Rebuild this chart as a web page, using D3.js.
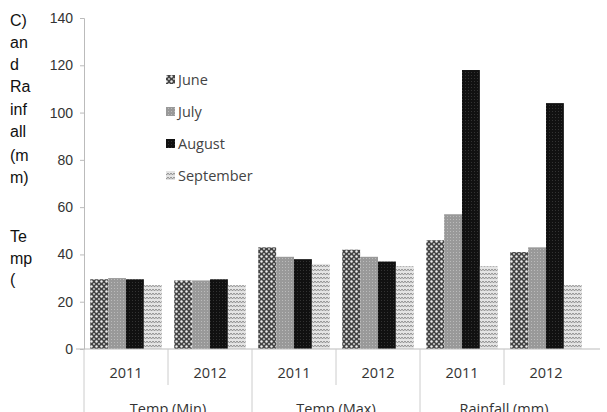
<!DOCTYPE html>
<html><head><meta charset="utf-8">
<script src="https://cdn.jsdelivr.net/npm/d3@7"></script>
<style>body{margin:0;background:#fff}svg{display:block}</style>
</head><body><svg id="c" width="607" height="412"></svg>
<script>
const categories=["Temp (Min)","Temp (Max)","Rainfall (mm)"];
const years=["2011","2012"];
const months=["June","July","August","September"];
const june=[29.5,29,43,42,46,41];
const july=[30,29,39,39,57,43];
const august=[29.5,29.5,38,37,118,104];
const september=[27,27,36,35,35,27];
const yTicks=[0,20,40,60,80,100,120,140];
const series=[june,july,august,september];
const svg=d3.select("#c");
const defs=svg.append("defs");
let p=defs.append("pattern").attr("id","p0").attr("width",5).attr("height",5).attr("patternUnits","userSpaceOnUse");
p.append("rect").attr("width",5).attr("height",5).attr("fill","#444");
p.append("circle").attr("cx",1.5).attr("cy",1.5).attr("r",1.2).attr("fill","#eee");
p.append("circle").attr("cx",4).attr("cy",4).attr("r",0.9).attr("fill","#ddd");
p=defs.append("pattern").attr("id","p1").attr("width",3).attr("height",3).attr("patternUnits","userSpaceOnUse");
p.append("rect").attr("width",3).attr("height",3).attr("fill","#999");
p.append("rect").attr("width",1).attr("height",1).attr("fill","#bbb");
p=defs.append("pattern").attr("id","p2").attr("width",3).attr("height",3).attr("patternUnits","userSpaceOnUse");
p.append("rect").attr("width",3).attr("height",3).attr("fill","#111");
p.append("rect").attr("width",1).attr("height",1).attr("fill","#333");
p=defs.append("pattern").attr("id","p3").attr("width",6).attr("height",4).attr("patternUnits","userSpaceOnUse");
p.append("rect").attr("width",6).attr("height",4).attr("fill","#e4e4e4");
p.append("path").attr("d","M0,1 L1.5,3 L3,1 L4.5,3 L6,1").attr("stroke","#888").attr("fill","none").attr("stroke-width",0.9);

svg.append("text").attr("x",420).attr("y",-6).attr("text-anchor","middle")
 .attr("font-family","Liberation Serif").attr("font-weight","bold").attr("font-size",22).attr("fill","#222")
 .text("Temperature profile and rainfall (mm)");

const x0=84,x1=588,yb=349,yt=18;
const y=d3.scaleLinear().domain([0,140]).range([yb,yt]);
const slots=d3.range(6);
const xs=d3.scaleBand().domain(slots).range([x0,x1]);
const xin=d3.scaleBand().domain(d3.range(4)).range([0,xs.bandwidth()]).paddingOuter(0.35);
const gy=svg.append("g").attr("transform",`translate(${x0},0)`).call(d3.axisLeft(y).tickValues(yTicks).tickSize(4).tickPadding(7));
gy.select(".domain").attr("stroke","#bbb");
gy.selectAll(".tick line").attr("stroke","#bbb");
gy.selectAll("text").attr("font-family","Liberation Sans").attr("font-size",14).attr("fill","#333");
series.forEach((s,i)=>{
 svg.append("g").selectAll("rect").data(s).join("rect")
  .attr("x",(d,j)=>xs(j)+xin(i)).attr("width",xin.bandwidth())
  .attr("y",d=>y(d)).attr("height",d=>yb-y(d)).attr("fill",`url(#p${i})`);
});
svg.append("line").attr("x1",x0-8).attr("x2",600).attr("y1",yb).attr("y2",yb).attr("stroke","#bbb");
slots.forEach(j=>{
 const xx=xs(j);
 svg.append("line").attr("x1",xx).attr("x2",xx).attr("y1",yb).attr("y2",j%2==0?412:385).attr("stroke","#ccc");
 svg.append("text").attr("x",xx+xs.bandwidth()/2).attr("y",378).attr("text-anchor","middle")
  .attr("font-family","Open Sans").attr("font-size",14.5).attr("fill","#333").text(years[j%2]);
});
categories.forEach((c,k)=>{
 svg.append("text").attr("x",xs(k*2)+xs.bandwidth()).attr("y",414).attr("text-anchor","middle")
  .attr("font-family","Open Sans").attr("font-size",14.5).attr("fill","#333").text(c);
});
months.forEach((m,i)=>{
 const ly=80+i*32;
 svg.append("rect").attr("x",166).attr("y",ly-5).attr("width",9).attr("height",9).attr("fill",`url(#p${i})`);
 svg.append("text").attr("x",178).attr("y",ly+5).attr("font-family","Open Sans").attr("font-size",14.5).attr("fill","#444").text(m);
});
const lbl=[["C)",20],["an",42],["d",64],["Ra",86],["inf",109],["all",131],["(m",155],["m)",177],["Te",236],["mp",258],["(",279]];
lbl.forEach(([t,yy])=>svg.append("text").attr("x",10).attr("y",yy+6).attr("font-family","Liberation Sans").attr("font-size",16).attr("fill","#111").text(t));
</script></body></html>
